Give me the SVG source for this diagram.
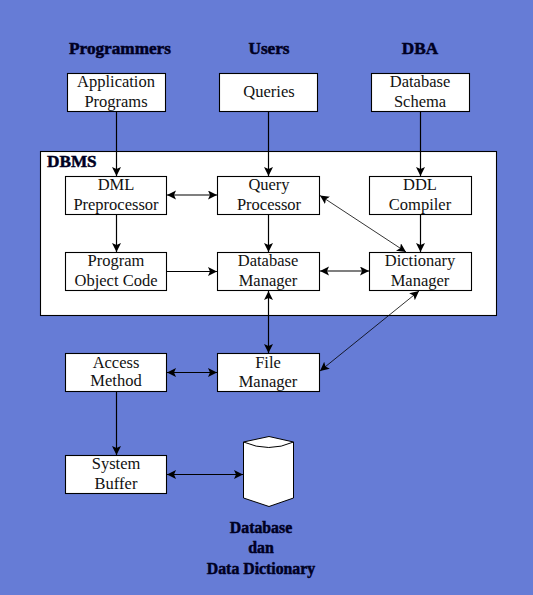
<svg xmlns="http://www.w3.org/2000/svg" width="533" height="595" viewBox="0 0 533 595">
<style>
.b{fill:#fff;stroke:#000;stroke-width:1.1}
.t{font-family:"Liberation Serif","Times New Roman",serif;font-size:16.5px;text-anchor:middle;fill:#111}
.h{font-family:"Liberation Serif","Times New Roman",serif;font-size:17.2px;font-weight:bold;text-anchor:middle;fill:#000022;stroke:#000022;stroke-width:.5}
.k{font-size:15.8px}
.c line{stroke:#000;stroke-width:1.2}
.c .thin{stroke-width:.8}
</style>
<defs>
<marker id="a" markerUnits="userSpaceOnUse" markerWidth="10" markerHeight="10" refX="9" refY="4.500" orient="auto-start-reverse"><path d="M0 0L9 4.500L0 9L2 4.500Z" fill="#000"/></marker>
</defs>
<rect width="533" height="595" fill="#667cd6"/>
<g id="dbms"><rect x="40.500" y="151.500" width="456" height="164" class="b"/><text x="47" y="167" class="h" style="text-anchor:start">DBMS</text></g>
<g id="programmers"><text x="120" y="54" class="h">Programmers</text></g>
<g id="users"><text x="269" y="54" class="h">Users</text></g>
<g id="dba"><text x="420" y="54" class="h">DBA</text></g>
<g id="application-programs"><rect x="67.500" y="73.500" width="98" height="38" class="b"/><text x="116" y="87" class="t">Application</text><text x="116" y="107" class="t">Programs</text></g>
<g id="queries"><rect x="219.500" y="73.500" width="98" height="38" class="b"/><text x="269" y="97" class="t">Queries</text></g>
<g id="database-schema"><rect x="371.500" y="73.500" width="98" height="38" class="b"/><text x="420" y="87" class="t">Database</text><text x="420" y="107" class="t">Schema</text></g>
<g id="dml"><rect x="65.500" y="176.500" width="101" height="38" class="b"/><text x="116" y="190" class="t">DML</text><text x="116" y="210" class="t">Preprocessor</text></g>
<g id="query-processor"><rect x="217.500" y="176.500" width="102" height="38" class="b"/><text x="269" y="190" class="t">Query</text><text x="269" y="210" class="t">Processor</text></g>
<g id="ddl"><rect x="369.500" y="176.500" width="102" height="38" class="b"/><text x="420" y="190" class="t">DDL</text><text x="420" y="210" class="t">Compiler</text></g>
<g id="object-code"><rect x="65.500" y="252.500" width="101" height="38" class="b"/><text x="116" y="266" class="t">Program</text><text x="116" y="286" class="t">Object Code</text></g>
<g id="database-manager"><rect x="217.500" y="252.500" width="102" height="38" class="b"/><text x="268" y="266" class="t">Database</text><text x="268" y="286" class="t">Manager</text></g>
<g id="dictionary-manager"><rect x="369.500" y="252.500" width="102" height="38" class="b"/><text x="420" y="266" class="t">Dictionary</text><text x="420" y="286" class="t">Manager</text></g>
<g id="access-method"><rect x="65.500" y="353.500" width="101" height="38" class="b"/><text x="116" y="368" class="t">Access</text><text x="116" y="386" class="t">Method</text></g>
<g id="file-manager"><rect x="217.500" y="353.500" width="102" height="38" class="b"/><text x="268" y="368" class="t">File</text><text x="268" y="387" class="t">Manager</text></g>
<g id="system-buffer"><rect x="65.500" y="455.500" width="101" height="38" class="b"/><text x="116" y="469" class="t">System</text><text x="116" y="489" class="t">Buffer</text></g>
<g id="database"><path d="M243.500 442L269 436.500L293.500 442V498L269 506.500L243.500 498Z" fill="#fff" stroke="#000" stroke-width="1"/><path d="M243.500 442Q269 453 293.500 442" fill="none" stroke="#000" stroke-width="1"/><text x="261" y="533" class="h k">Database</text><text x="261" y="553" class="h k">dan</text><text x="261" y="574" class="h k">Data Dictionary</text></g>
<g id="connectors" class="c">
<line x1="116.500" y1="112" x2="116.500" y2="176" marker-end="url(#a)"/>
<line x1="268.500" y1="112" x2="268.500" y2="176" marker-end="url(#a)"/>
<line x1="420.500" y1="112" x2="420.500" y2="176" marker-end="url(#a)"/>
<line x1="167" y1="195" x2="217" y2="195" marker-start="url(#a)" marker-end="url(#a)"/>
<line x1="116.500" y1="215" x2="116.500" y2="252" marker-end="url(#a)"/>
<line x1="268.500" y1="215" x2="268.500" y2="252" marker-end="url(#a)"/>
<line x1="420.500" y1="215" x2="420.500" y2="252" marker-end="url(#a)"/>
<line class="thin" x1="320" y1="195.500" x2="406" y2="252" marker-start="url(#a)" marker-end="url(#a)"/>
<line x1="167" y1="271.500" x2="217" y2="271.500" marker-end="url(#a)"/>
<line x1="320" y1="271" x2="369" y2="271" marker-start="url(#a)" marker-end="url(#a)"/>
<line x1="268.500" y1="291" x2="268.500" y2="353" marker-start="url(#a)" marker-end="url(#a)"/>
<line class="thin" x1="320" y1="371" x2="419" y2="291" marker-start="url(#a)" marker-end="url(#a)"/>
<line x1="167" y1="372.500" x2="217" y2="372.500" marker-start="url(#a)" marker-end="url(#a)"/>
<line x1="116.500" y1="392" x2="116.500" y2="455" marker-end="url(#a)"/>
<line x1="167" y1="474.500" x2="243" y2="474.500" marker-start="url(#a)" marker-end="url(#a)"/>
</g>
</svg>
